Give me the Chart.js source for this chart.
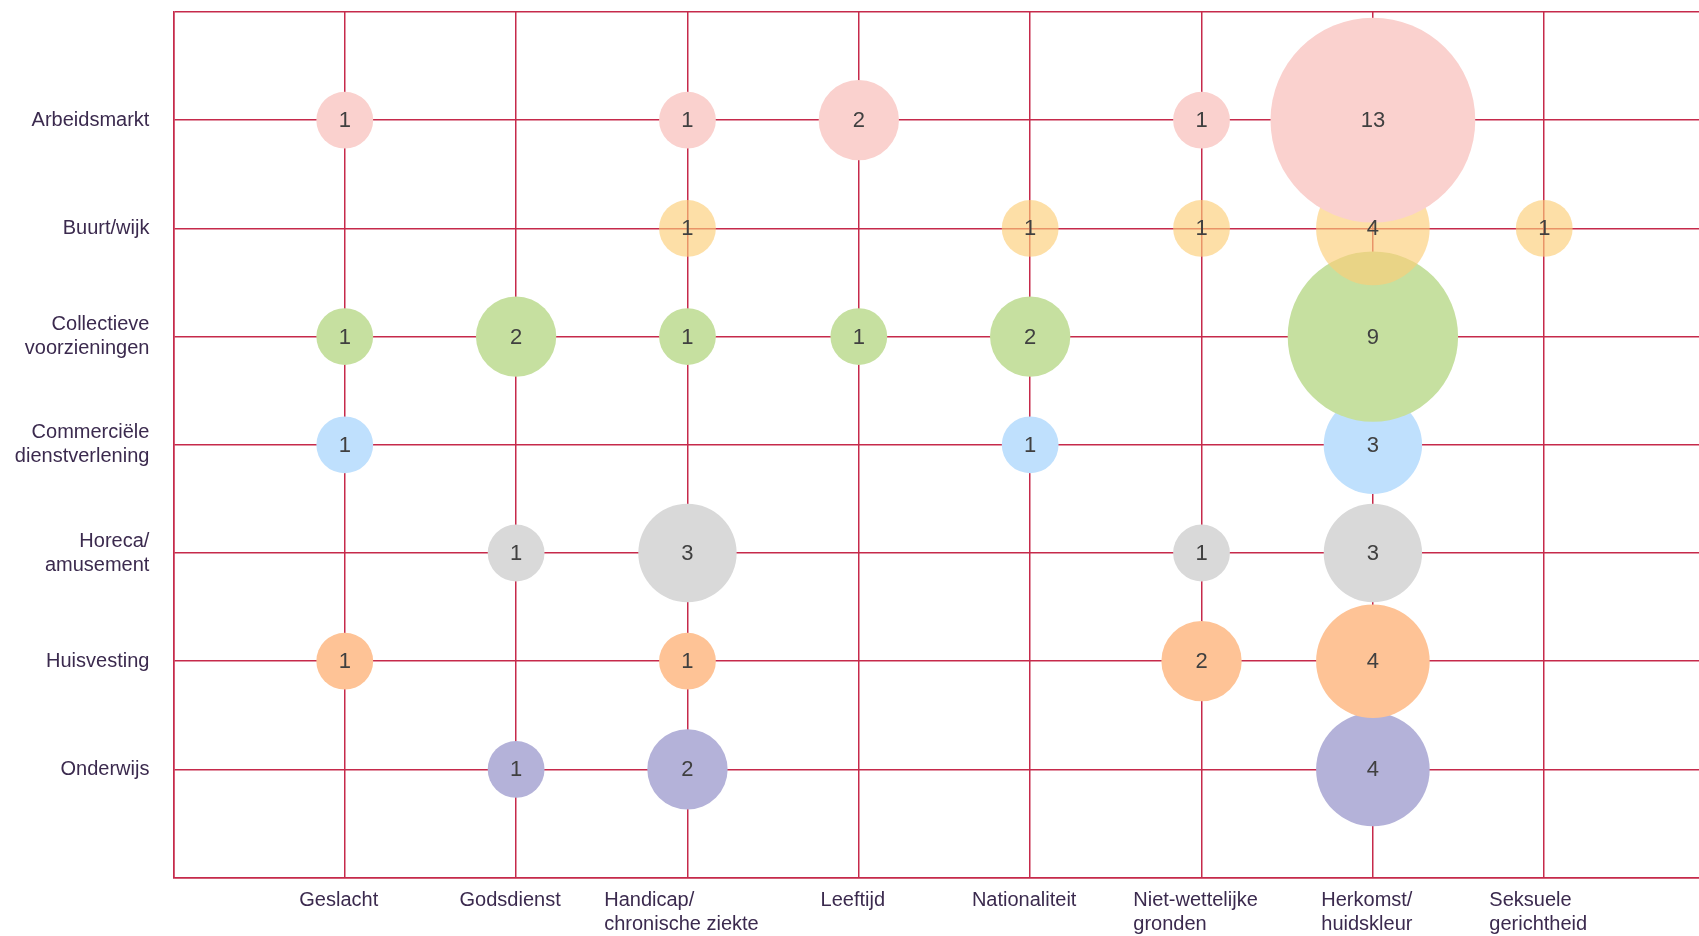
<!DOCTYPE html>
<html>
<head>
<meta charset="utf-8">
<script src="https://cdn.jsdelivr.net/npm/chart.js@4/dist/chart.umd.min.js"></script>
<style>
  html, body { margin: 0; padding: 0; background: #ffffff; overflow: hidden; width: 1699px; height: 936px; }
  #wrap { position: absolute; left: 0; top: 0; width: 1760px; height: 936px; }
</style>
</head>
<body>
<div id="wrap"><canvas id="c" width="1760" height="936" style="width:1760px;height:936px"></canvas></div>
<script>
// ---- Data ----
const columns = ['Geslacht', 'Godsdienst', 'Handicap/\nchronische ziekte', 'Leeftijd', 'Nationaliteit',
                 'Niet-wettelijke\ngronden', 'Herkomst/\nhuidskleur', 'Seksuele\ngerichtheid'];
const rows = ['Arbeidsmarkt', 'Buurt/wijk', 'Collectieve\nvoorzieningen', 'Commerciële\ndienstverlening',
              'Horeca/\namusement', 'Huisvesting', 'Onderwijs'];

const arbeidsmarkt  = [1, null, 1, 2, null, 1, 13, null];
const buurtWijk     = [null, null, 1, null, 1, 1, 4, 1];
const collectieve   = [1, 2, 1, 1, 2, null, 9, null];
const commerciele   = [1, null, null, null, 1, null, 3, null];
const horeca        = [null, 1, 3, null, null, 1, 3, null];
const huisvesting   = [1, null, 1, null, null, 2, 4, null];
const onderwijs     = [null, 1, 2, null, null, null, 4, null];

const seriesValues = [arbeidsmarkt, buurtWijk, collectieve, commerciele, horeca, huisvesting, onderwijs];

// ---- Styles ----
const seriesColors = ['#fad1ce', 'rgba(252,206,120,0.65)', '#c6e0a0', '#bfe0fd', '#d9d9d9', '#fec396', '#b4b2d9'];
const GRID = '#c62a4b';
const TEXT = '#3b2a4e';
const FONT = '"Liberation Sans", Arial, sans-serif';
const UNIT_R = 28.4;

const datasets = seriesValues.map((vals, r) => ({
  label: rows[r].replace('\n', ' '),
  data: vals.map((v, c) => v == null ? null : { x: c + 1, y: r + 1, v: v }).filter(p => p),
  backgroundColor: seriesColors[r],
  borderWidth: 0,
  radius: ctx => ctx.raw ? UNIT_R * Math.sqrt(ctx.raw.v) : 0,
  hoverRadius: 0
}));

const valueLabels = {
  id: 'valueLabels',
  afterDatasetsDraw(chart) {
    const ctx = chart.ctx;
    ctx.save();
    ctx.font = '22px ' + FONT;
    ctx.fillStyle = '#404040';
    ctx.textAlign = 'center';
    ctx.textBaseline = 'middle';
    chart.data.datasets.forEach((ds, i) => {
      const meta = chart.getDatasetMeta(i);
      meta.data.forEach((el, j) => {
        ctx.fillText(String(ds.data[j].v), el.x, el.y + 1);
      });
    });
    ctx.restore();
  }
};

const xLabels = {
  id: 'xLabels',
  afterDraw(chart) {
    const ctx = chart.ctx;
    const xs = chart.scales.x;
    ctx.save();
    ctx.font = '20px ' + FONT;
    ctx.fillStyle = TEXT;
    ctx.textAlign = 'left';
    ctx.textBaseline = 'middle';
    columns.forEach((lab, i) => {
      const lines = lab.split('\n');
      const w = Math.max(...lines.map(l => ctx.measureText(l).width));
      const x0 = xs.getPixelForValue(i + 1) - w / 2 - 6;
      lines.forEach((l, k) => ctx.fillText(l, x0, xs.top + 23 + k * 24));
    });
    ctx.restore();
  }
};

new Chart(document.getElementById('c'), {
  type: 'bubble',
  data: { datasets },
  plugins: [valueLabels, xLabels],
  options: {
    responsive: false,
    animation: false,
    layout: { autoPadding: false, padding: { left: 0, top: 12, right: 44.4, bottom: 0 } },
    plugins: { legend: { display: false }, tooltip: { enabled: false } },
    events: [],
    scales: {
      x: {
        type: 'linear', min: 0, max: 9,
        ticks: { stepSize: 1, display: false },
        grid: { color: GRID, lineWidth: 1.5, drawTicks: false },
        border: { display: true, color: GRID, width: 1.5 },
        afterFit(s) { s.height = 58.4; s.paddingLeft = 0; s.paddingRight = 0; }
      },
      y: {
        type: 'linear', min: 0, max: 8, reverse: true,
        ticks: {
          stepSize: 1, padding: 24, color: TEXT,
          font: { family: FONT, size: 20, lineHeight: 1.2 },
          callback: v => (v >= 1 && v <= rows.length) ? rows[v - 1].split('\n') : ''
        },
        grid: { color: GRID, lineWidth: 1.5, drawTicks: false },
        border: { display: true, color: GRID, width: 1.5 },
        afterFit(s) { s.width = 173.4; s.paddingTop = 0; s.paddingBottom = 0; }
      }
    }
  }
});
</script>
</body>
</html>
